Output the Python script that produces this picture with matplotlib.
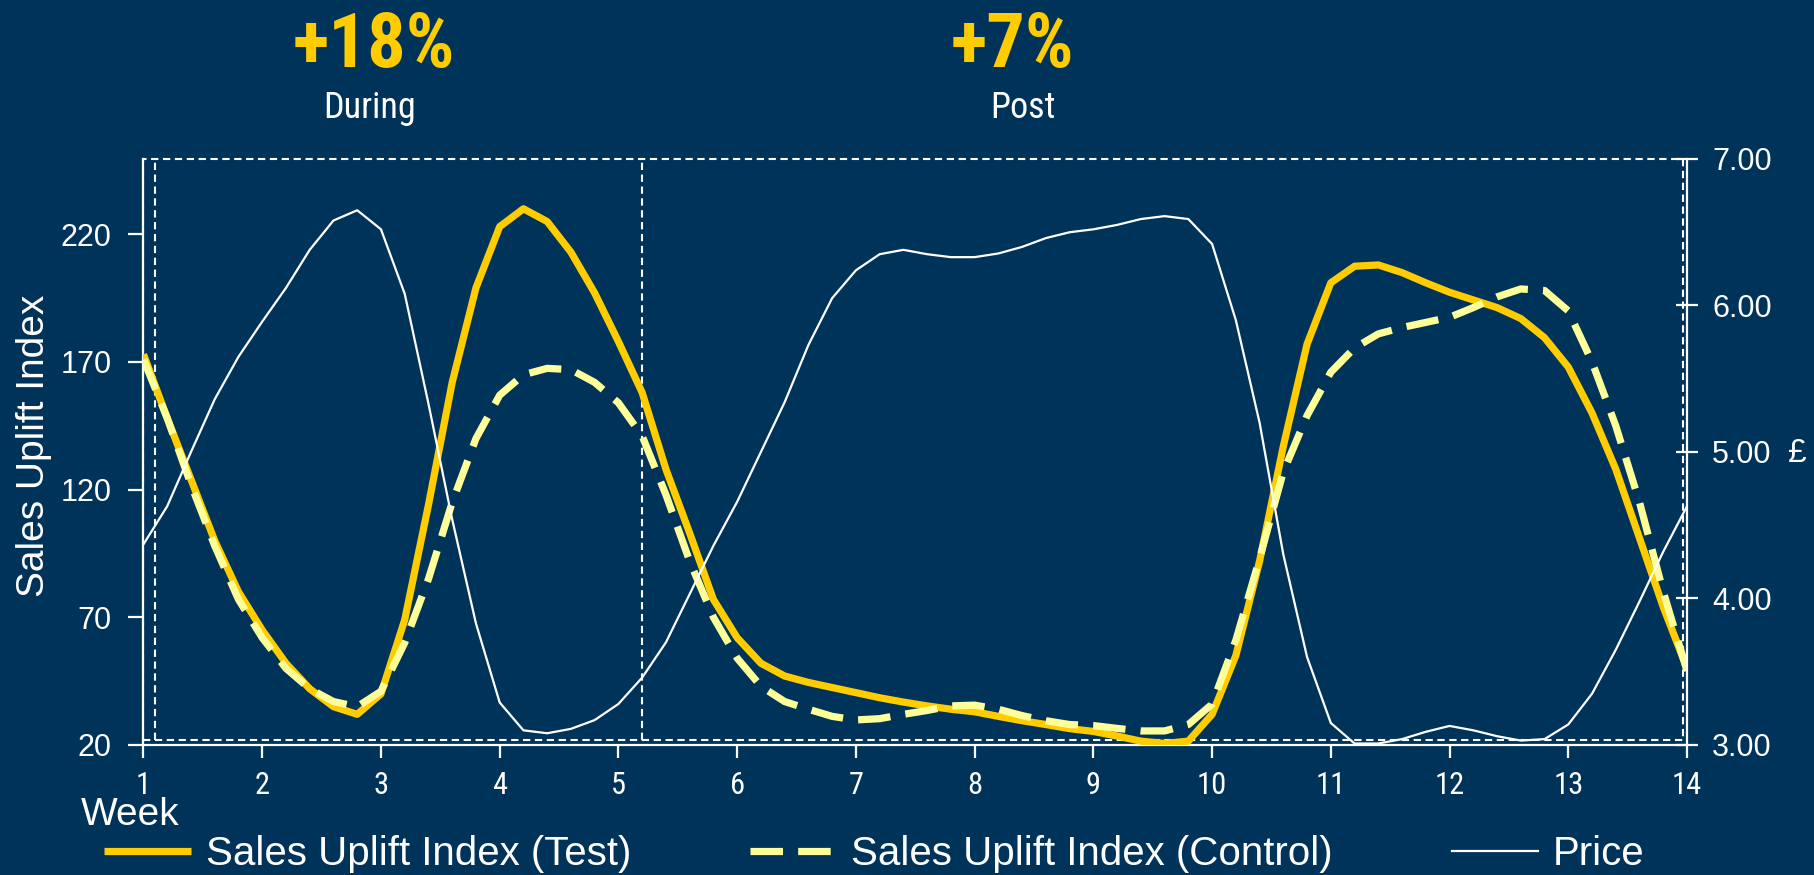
import matplotlib
matplotlib.use("Agg")
import matplotlib.pyplot as plt
from matplotlib import font_manager

# ---- data -------------------------------------------------------------
weeks = [1.0, 1.2, 1.4, 1.6, 1.8, 2.0, 2.2, 2.4, 2.6, 2.8,
         3.0, 3.2, 3.4, 3.6, 3.8, 4.0, 4.2, 4.4, 4.6, 4.8,
         5.0, 5.2, 5.4, 5.6, 5.8, 6.0, 6.2, 6.4, 6.6, 6.8,
         7.0, 7.2, 7.4, 7.6, 7.8, 8.0, 8.2, 8.4, 8.6, 8.8,
         9.0, 9.2, 9.4, 9.6, 9.8, 10.0, 10.2, 10.4, 10.6, 10.8,
         11.0, 11.2, 11.4, 11.6, 11.8, 12.0, 12.2, 12.4, 12.6, 12.8,
         13.0, 13.2, 13.4, 13.6, 13.8, 14.0]

uplift_test = [173, 148, 124, 100, 80, 65, 52, 42, 35, 32,
               40, 69, 114, 162, 199, 223, 230, 225, 213, 197,
               178, 158, 128, 103, 77, 62, 52, 47, 44.5, 42.5,
               40.5, 38.5, 36.8, 35.3, 34, 33, 31.2, 29.5, 28, 26.4,
               25.3, 23.5, 21.5, 20.6, 21.5, 32, 55, 92, 137, 177,
               201, 207.5, 208, 205, 201, 197.3, 194.3, 191.3, 187, 179.5,
               168, 150, 128, 101, 74, 50]

uplift_control = [171, 148, 122, 98, 77, 62, 50, 42, 37, 35,
                  41, 60, 85, 115, 140, 157, 165, 167.5, 167, 162,
                  154, 141, 118, 92, 70, 54, 43, 37, 34, 31.2,
                  29.8, 30.3, 32, 33.5, 35.3, 35.6, 34, 31.5, 29.5, 28,
                  27.6, 26.5, 25.5, 25.5, 28, 36, 61, 93, 127, 149,
                  166, 175.5, 181, 183.5, 185.5, 187.5, 191.3, 195.5, 198.6, 198,
                  190, 170, 145, 115, 80, 49]

price = [4.37, 4.63, 5.00, 5.36, 5.65, 5.89, 6.12, 6.38, 6.58, 6.65,
         6.52, 6.08, 5.33, 4.54, 3.83, 3.29, 3.10, 3.08, 3.11, 3.17,
         3.28, 3.46, 3.70, 4.03, 4.36, 4.66, 5.00, 5.34, 5.73, 6.05,
         6.24, 6.35, 6.38, 6.35, 6.33, 6.33, 6.355, 6.40, 6.46, 6.50,
         6.52, 6.55, 6.59, 6.61, 6.59, 6.42, 5.90, 5.20, 4.30, 3.60,
         3.15, 3.01, 3.01, 3.04, 3.09, 3.13, 3.10, 3.06, 3.03, 3.04,
         3.14, 3.35, 3.65, 3.98, 4.32, 4.63]

week_ticks = list(range(1, 15))
index_ticks = [20, 70, 120, 170, 220]
price_ticks = [3.0, 4.0, 5.0, 6.0, 7.0]

# promotion windows: start of "During", split point, end of "Post"
window_start, window_split, window_end = 1.0, 5.2, 13.97
uplift_labels = [("+18%", "During"), ("+7%", "Post")]

# ---- styling ----------------------------------------------------------
BG = "#003359"
GOLD = "#FFCC00"
PALE = "#FFFF99"
WHITE = "#FFFFFF"


def pick_font(names):
    for n in names:
        try:
            font_manager.findfont(n, fallback_to_default=False)
            return n
        except Exception:
            continue
    return "DejaVu Sans"


REG = pick_font(["Liberation Sans", "Arial", "DejaVu Sans"])
NARROW = pick_font(["Liberation Sans Narrow", "Arial Narrow", "Roboto Condensed",
                    "Liberation Sans"])

plt.rcParams["font.family"] = REG

fig = plt.figure(figsize=(18.14, 8.75), dpi=100, facecolor=BG)
ax = fig.add_axes([0.0791, 0.1486, 0.9300 - 0.0791, 0.8183 - 0.1486])
ax.set_facecolor(BG)
ax2 = ax.twinx()

ax.set_xlim(1, 14)
ax.set_ylim(20, 249.5)
ax2.set_ylim(3.0, 7.0)

# series
l_test, = ax.plot(weeks, uplift_test, color=GOLD, lw=5.2, solid_joinstyle="round",
                  solid_capstyle="butt", label="Sales Uplift Index (Test)", zorder=3)
l_ctrl, = ax.plot(weeks, uplift_control, color=PALE, lw=5.2, dashes=(4.5, 2.1),
                  label="Sales Uplift Index (Control)", zorder=4)
l_price, = ax2.plot(weeks, price, color=WHITE, lw=1.6, label="Price", zorder=5)

# dashed window boxes
box_kw = dict(color=WHITE, lw=1.5, dashes=(3.5, 2.2), clip_on=False, zorder=2)
ybot, ytop = 21.8, 249.5
ax.plot([window_start, window_end, window_end, window_start, window_start],
        [ybot, ybot, ytop, ytop, ybot], **box_kw)
ax.plot([window_split, window_split], [ybot, ytop], **box_kw)
ax.plot([1.1, 1.1], [ybot, ytop], **box_kw)

# spines
for a in (ax, ax2):
    a.spines["top"].set_visible(False)
    for s in ("left", "right", "bottom"):
        a.spines[s].set_color(WHITE)
        a.spines[s].set_linewidth(1.6)
ax.spines["right"].set_visible(False)
ax2.spines["left"].set_visible(False)
ax2.spines["bottom"].set_visible(False)

ax.set_xticks(week_ticks)
ax.set_xticklabels([str(w) for w in week_ticks], fontfamily=NARROW, fontsize=22)
ax.tick_params(axis="x", colors=WHITE, length=9, width=1.6, pad=10, direction="out")
ax.set_yticks(index_ticks)
ax.set_yticklabels([str(v) for v in index_ticks], fontsize=22)
ax.tick_params(axis="y", colors=WHITE, length=11, width=1.6, pad=12, direction="out")

ax2.set_yticks(price_ticks)
ax2.set_yticklabels([f"{p:.2f}" for p in price_ticks], fontsize=22)
ax2.tick_params(axis="y", colors=WHITE, length=16, width=1.6, pad=10, direction="inout")

# axis titles
fig.text(34 / 1814, 1 - 446 / 875, "Sales Uplift Index", rotation=90, color=WHITE,
         fontsize=28, ha="center", va="center")
fig.text(1797 / 1814, 1 - 453 / 875, "£", color=WHITE, fontsize=24,
         ha="center", va="center")
fig.text(81 / 1814, 1 - 815 / 875, "Week", color=WHITE, fontsize=28,
         ha="left", va="center")

# uplift call-outs above the windows
callout_x = [(374, 370), (1012, 1023)]
for (big, small), (xb, xs) in zip(uplift_labels, callout_x):
    fig.text(xb / 1814, 1 - 46 / 875, big, color=GOLD, fontsize=55,
             fontweight="bold", fontfamily=NARROW, ha="center", va="center")
    fig.text(xs / 1814, 1 - 108 / 875, small, color=WHITE, fontsize=26,
             fontfamily=NARROW, ha="center", va="center")

# legend
leg = fig.legend([l_test, l_ctrl, l_price],
                 [l_test.get_label(), l_ctrl.get_label(), l_price.get_label()],
                 ncol=3, loc="center left", bbox_to_anchor=(104 / 1814, 1 - 854 / 875),
                 frameon=False, fontsize=29, handlelength=2.15, handletextpad=0.37,
                 columnspacing=2.95, borderpad=0, borderaxespad=0)
for t in leg.get_texts():
    t.set_color(WHITE)

fig.savefig("out.png", dpi=100, facecolor=BG)
